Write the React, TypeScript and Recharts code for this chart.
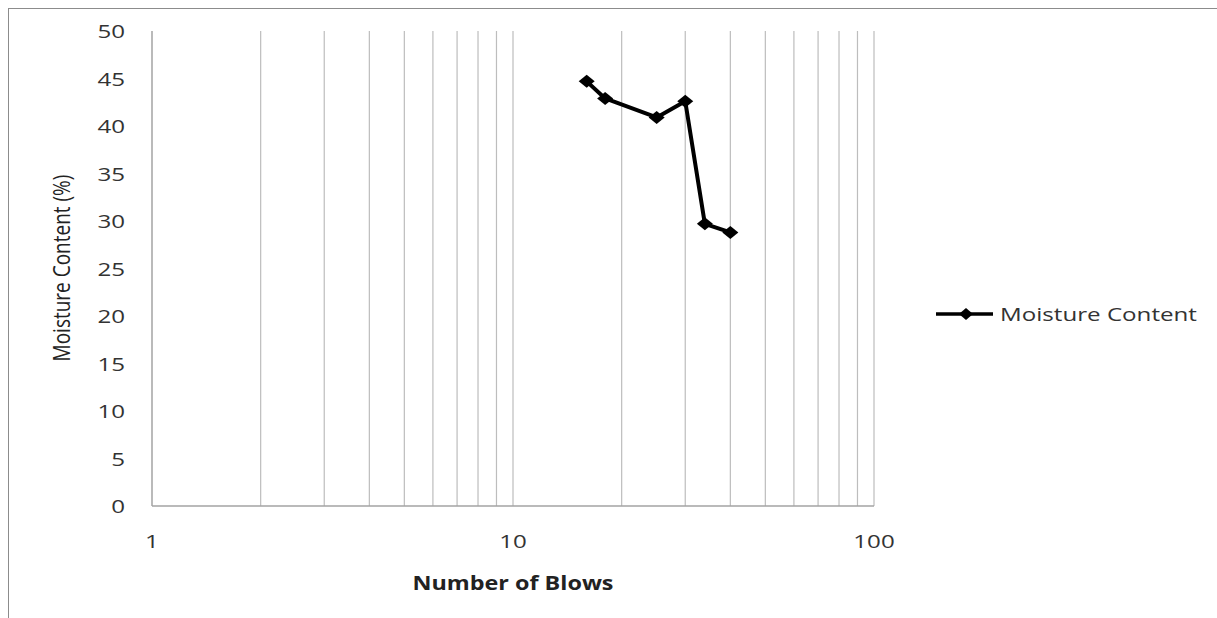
import { Legend, Line, LineChart, ReferenceLine, XAxis, YAxis } from "recharts";

const blows = [16, 18, 25, 30, 34, 40];
const moisture = [44.7, 42.9, 40.9, 42.6, 29.7, 28.8];
const xTicks = [1, 10, 100];
const yTicks = [0, 5, 10, 15, 20, 25, 30, 35, 40, 45, 50];
const gridValues = [2, 3, 4, 5, 6, 7, 8, 9, 10, 20, 30, 40, 50, 60, 70, 80, 90, 100];

const data = blows.map((b, i) => ({ blows: b, moisture: moisture[i] }));

const FONT = "'Open Sans', sans-serif";
const STRETCH = 1.27;
const AXIS = "#a3a3a3";
const GRID = "#bdbdbd";
const TEXT = "#333";

function Diamond({ cx, cy, w = 8, h = 6.5 }: { cx?: number; cy?: number; w?: number; h?: number }) {
  if (cx == null || cy == null) return null;
  return (
    <polygon
      points={`${cx - w},${cy} ${cx},${cy - h} ${cx + w},${cy} ${cx},${cy + h}`}
      fill="#000"
    />
  );
}

function YTick(props: any) {
  const { x, y, payload } = props;
  return (
    <text
      transform={`translate(${x - 27},${y + 7}) scale(${STRETCH},1)`}
      textAnchor="end"
      fontFamily={FONT}
      fontSize={19}
      fill={TEXT}
    >
      {payload.value}
    </text>
  );
}

function XTick(props: any) {
  const { x, y, payload } = props;
  return (
    <text
      transform={`translate(${x},${y + 42}) scale(${STRETCH},1)`}
      textAnchor="middle"
      fontFamily={FONT}
      fontSize={19}
      fill={TEXT}
    >
      {payload.value}
    </text>
  );
}

function LegendContent() {
  return (
    <div style={{ display: "flex", alignItems: "center", height: 24 }}>
      <svg width={60} height={24}>
        <line x1={0} x2={57} y1={12} y2={12} stroke="#000" strokeWidth={3.5} />
        <Diamond cx={30} cy={12} w={7} h={6} />
      </svg>
      <span
        style={{
          fontFamily: FONT,
          fontSize: 19,
          color: TEXT,
          marginLeft: 4,
          display: "inline-block",
          transform: `scaleX(${STRETCH})`,
          transformOrigin: "left center",
          whiteSpace: "nowrap",
        }}
      >
        Moisture Content
      </span>
    </div>
  );
}

export default function App() {
  return (
    <div style={{ position: "relative", width: 1217, height: 618, background: "#fff", overflow: "hidden" }}>
      <style>{`body{margin:0;overflow:hidden;}`}</style>
      <div
        style={{
          position: "absolute",
          left: 8,
          top: 8,
          width: 1209,
          height: 610,
          borderLeft: "1px solid #8c8c8c",
          borderTop: "1px solid #8c8c8c",
          boxSizing: "border-box",
          pointerEvents: "none",
        }}
      />
      <div style={{ position: "absolute", left: 0, top: 0 }}>
        <LineChart
          width={1217}
          height={618}
          data={data}
          margin={{ top: 31, right: 343, bottom: 52, left: 0 }}
        >
          {gridValues.map((v) => (
            <ReferenceLine key={v} x={v} stroke={GRID} strokeWidth={1.2} />
          ))}
          <XAxis
            dataKey="blows"
            type="number"
            scale="log"
            domain={[1, 100]}
            ticks={xTicks}
            allowDataOverflow
            height={60}
            tickSize={0}
            tickMargin={0}
            axisLine={{ stroke: AXIS, strokeWidth: 1.5 }}
            tickLine={false}
            tick={<XTick />}
            label={{
              content: (p: any) => {
                const vb = p.viewBox || {};
                return (
                  <text
                    transform={`translate(${vb.x + vb.width / 2},590) scale(${STRETCH - 0.04},1)`}
                    textAnchor="middle"
                    fontFamily={FONT}
                    fontWeight={700}
                    fontSize={19}
                    fill="#222"
                  >
                    Number of Blows
                  </text>
                );
              },
            }}
          />
          <YAxis
            type="number"
            domain={[0, 50]}
            ticks={yTicks}
            width={152}
            tickSize={0}
            tickMargin={0}
            axisLine={{ stroke: AXIS, strokeWidth: 1.5 }}
            tickLine={false}
            tick={<YTick />}
            label={{
              content: () => (
                <text
                  transform={`translate(70,268) scale(${STRETCH},1) rotate(-90)`}
                  textAnchor="middle"
                  fontFamily={FONT}
                  fontSize={19}
                  fill="#222"
                >
                  Moisture Content (%)
                </text>
              ),
            }}
          />
          <Legend
            layout="horizontal"
            align="center"
            verticalAlign="middle"
            content={<LegendContent />}
            wrapperStyle={{ left: 936, top: 302, width: "auto", height: 24 }}
          />
          <Line
            type="linear"
            dataKey="moisture"
            name="Moisture Content"
            stroke="#000"
            strokeWidth={4}
            strokeLinejoin="round"
            dot={(p: any) => <Diamond key={p.index} cx={p.cx} cy={p.cy} />}
            activeDot={false}
            isAnimationActive={false}
          />
        </LineChart>
      </div>
    </div>
  );
}
